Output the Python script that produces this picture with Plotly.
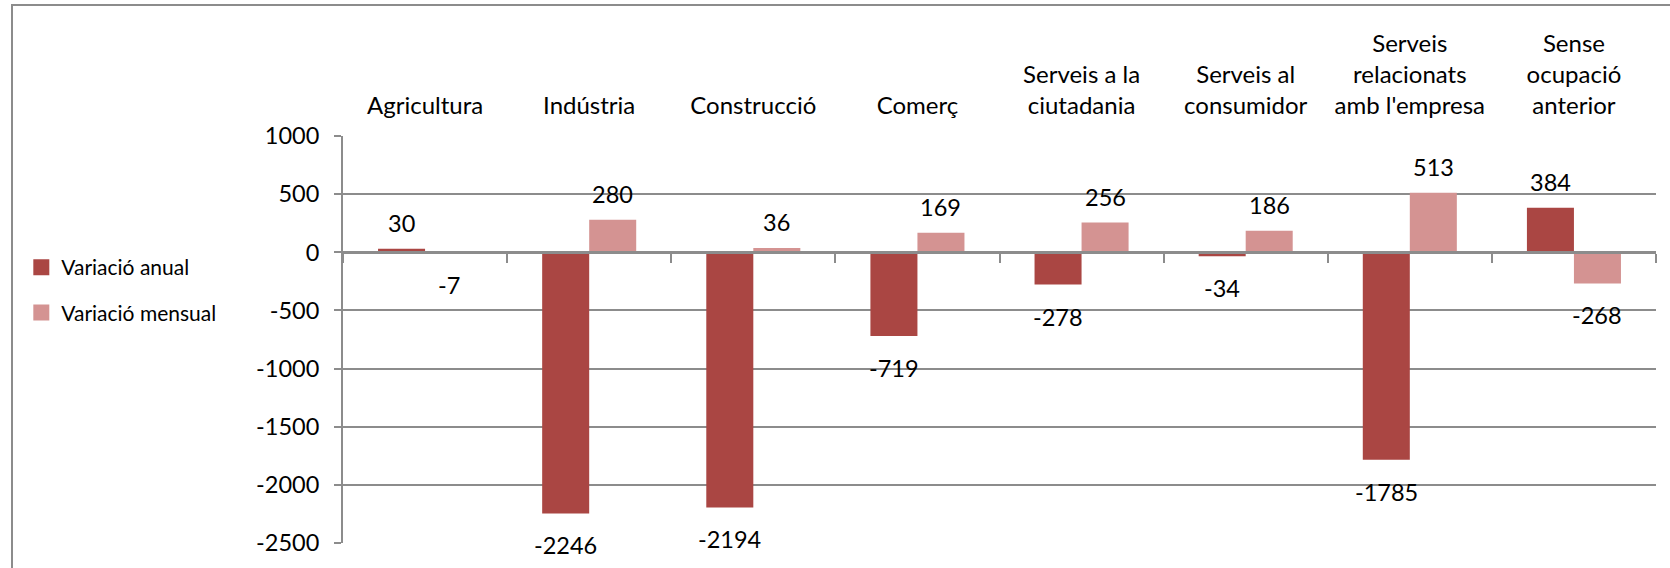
import plotly.graph_objects as go

categories = ["Agricultura", "Indústria", "Construcció", "Comerç",
              "Serveis a la ciutadania", "Serveis al consumidor",
              "Serveis relacionats amb l'empresa", "Sense ocupació anterior"]
tick_labels = ["Agricultura", "Indústria", "Construcció", "Comerç",
               "Serveis a la<br>ciutadania", "Serveis al<br>consumidor",
               "Serveis<br>relacionats<br>amb l'empresa", "Sense<br>ocupació<br>anterior"]
variacio_anual = [30, -2246, -2194, -719, -278, -34, -1785, 384]
variacio_mensual = [-7, 280, 36, 169, 256, 186, 513, -268]
series_names = ["Variació anual", "Variació mensual"]
y_ticks = [1000, 500, 0, -500, -1000, -1500, -2000, -2500]
y_tick_text = ["1000", "500", "0", "-500", "-1000", "-1500", "-2000", "-2500"]

FONT = "Lato"
FS = 23.5
C_ANUAL = "#AA4643"
C_MENSUAL = "#D49392"
GRID = "#8C8C8C"
BARGAP = 0.427

fig = go.Figure()
for name, vals, col in [(series_names[0], variacio_anual, C_ANUAL),
                        (series_names[1], variacio_mensual, C_MENSUAL)]:
    fig.add_trace(go.Bar(
        x=categories, y=vals, name=name, legendgroup=name, showlegend=False,
        marker=dict(color=col, line=dict(width=0)),
        xaxis="x", yaxis="y",
    ))

# legend entries (square swatches)
for name, col in [(series_names[0], C_ANUAL), (series_names[1], C_MENSUAL)]:
    fig.add_trace(go.Scatter(
        x=[None], y=[None], mode="markers", name=name, legendgroup=name,
        marker=dict(symbol="square", size=16, color=col, line=dict(width=0)),
        xaxis="x", yaxis="y", hoverinfo="skip",
    ))

# data labels
half = (1 - BARGAP) / 4
for k, vals in enumerate([variacio_anual, variacio_mensual]):
    off = -half if k == 0 else half
    for j, v in enumerate(vals):
        fig.add_annotation(
            x=j + off, y=v, xref="x", yref="y", text=str(v), showarrow=False,
            yanchor="bottom" if v >= 0 else "top",
            yshift=10 if v >= 0 else -16,
            font=dict(family=FONT, size=FS, color="#000000"),
        )

zero_pos = (0 - (-2500)) / 3500.0

fig.update_layout(
    width=1670, height=568,
    margin=dict(l=343, r=14, t=136, b=25),
    paper_bgcolor="white", plot_bgcolor="white",
    barmode="group", bargap=BARGAP, bargroupgap=0,
    font=dict(family=FONT, size=FS, color="#000000"),
    xaxis=dict(
        type="category", categoryorder="array", categoryarray=categories,
        anchor="free", position=zero_pos, side="bottom",
        showline=True, linecolor=GRID, linewidth=3,
        ticks="outside", tickson="boundaries", ticklen=9, tickwidth=2, tickcolor=GRID,
        showticklabels=False, showgrid=False, zeroline=False,
    ),
    xaxis2=dict(
        type="category", categoryorder="array", categoryarray=categories,
        matches="x", overlaying="x", side="top", anchor="y",
        tickvals=categories, ticktext=tick_labels,
        showline=False, ticks="", showgrid=False, zeroline=False,
        ticklabelstandoff=16,
        tickfont=dict(family=FONT, size=FS + 0.5, color="#000000"),
    ),
    yaxis=dict(
        range=[-2500, 1000], tickvals=y_ticks, ticktext=y_tick_text,
        showline=True, linecolor=GRID, linewidth=2,
        ticks="outside", ticklen=7, tickwidth=2, tickcolor=GRID,
        showgrid=True, gridcolor=GRID, gridwidth=2, zeroline=False,
        tickfont=dict(family=FONT, size=FS, color="#000000"),
        ticklabelstandoff=10,
    ),
    legend=dict(
        x=-0.245, xanchor="left", y=0.727, yanchor="top",
        traceorder="grouped", tracegroupgap=15, itemsizing="trace",
        font=dict(family=FONT, size=21, color="#000000"),
        itemwidth=30, bgcolor="rgba(0,0,0,0)",
    ),
    showlegend=True,
)

# invisible trace so the top category axis renders
fig.add_trace(go.Bar(x=categories, y=[0] * len(categories), xaxis="x2", yaxis="y",
                     showlegend=False, hoverinfo="skip", marker=dict(color="rgba(0,0,0,0)")))

# outer chart frame
fig.add_shape(type="rect", xref="paper", yref="paper",
              x0=(12 - 343) / 1313, x1=1.2, y0=-0.2, y1=(543 - 5) / 407,
              line=dict(color="#8C8C8C", width=2), fillcolor="rgba(0,0,0,0)", layer="below")

fig.write_html("out.html", config={"displayModeBar": False},
               post_script="document.body.style.margin='0';document.body.style.overflow='hidden';")
